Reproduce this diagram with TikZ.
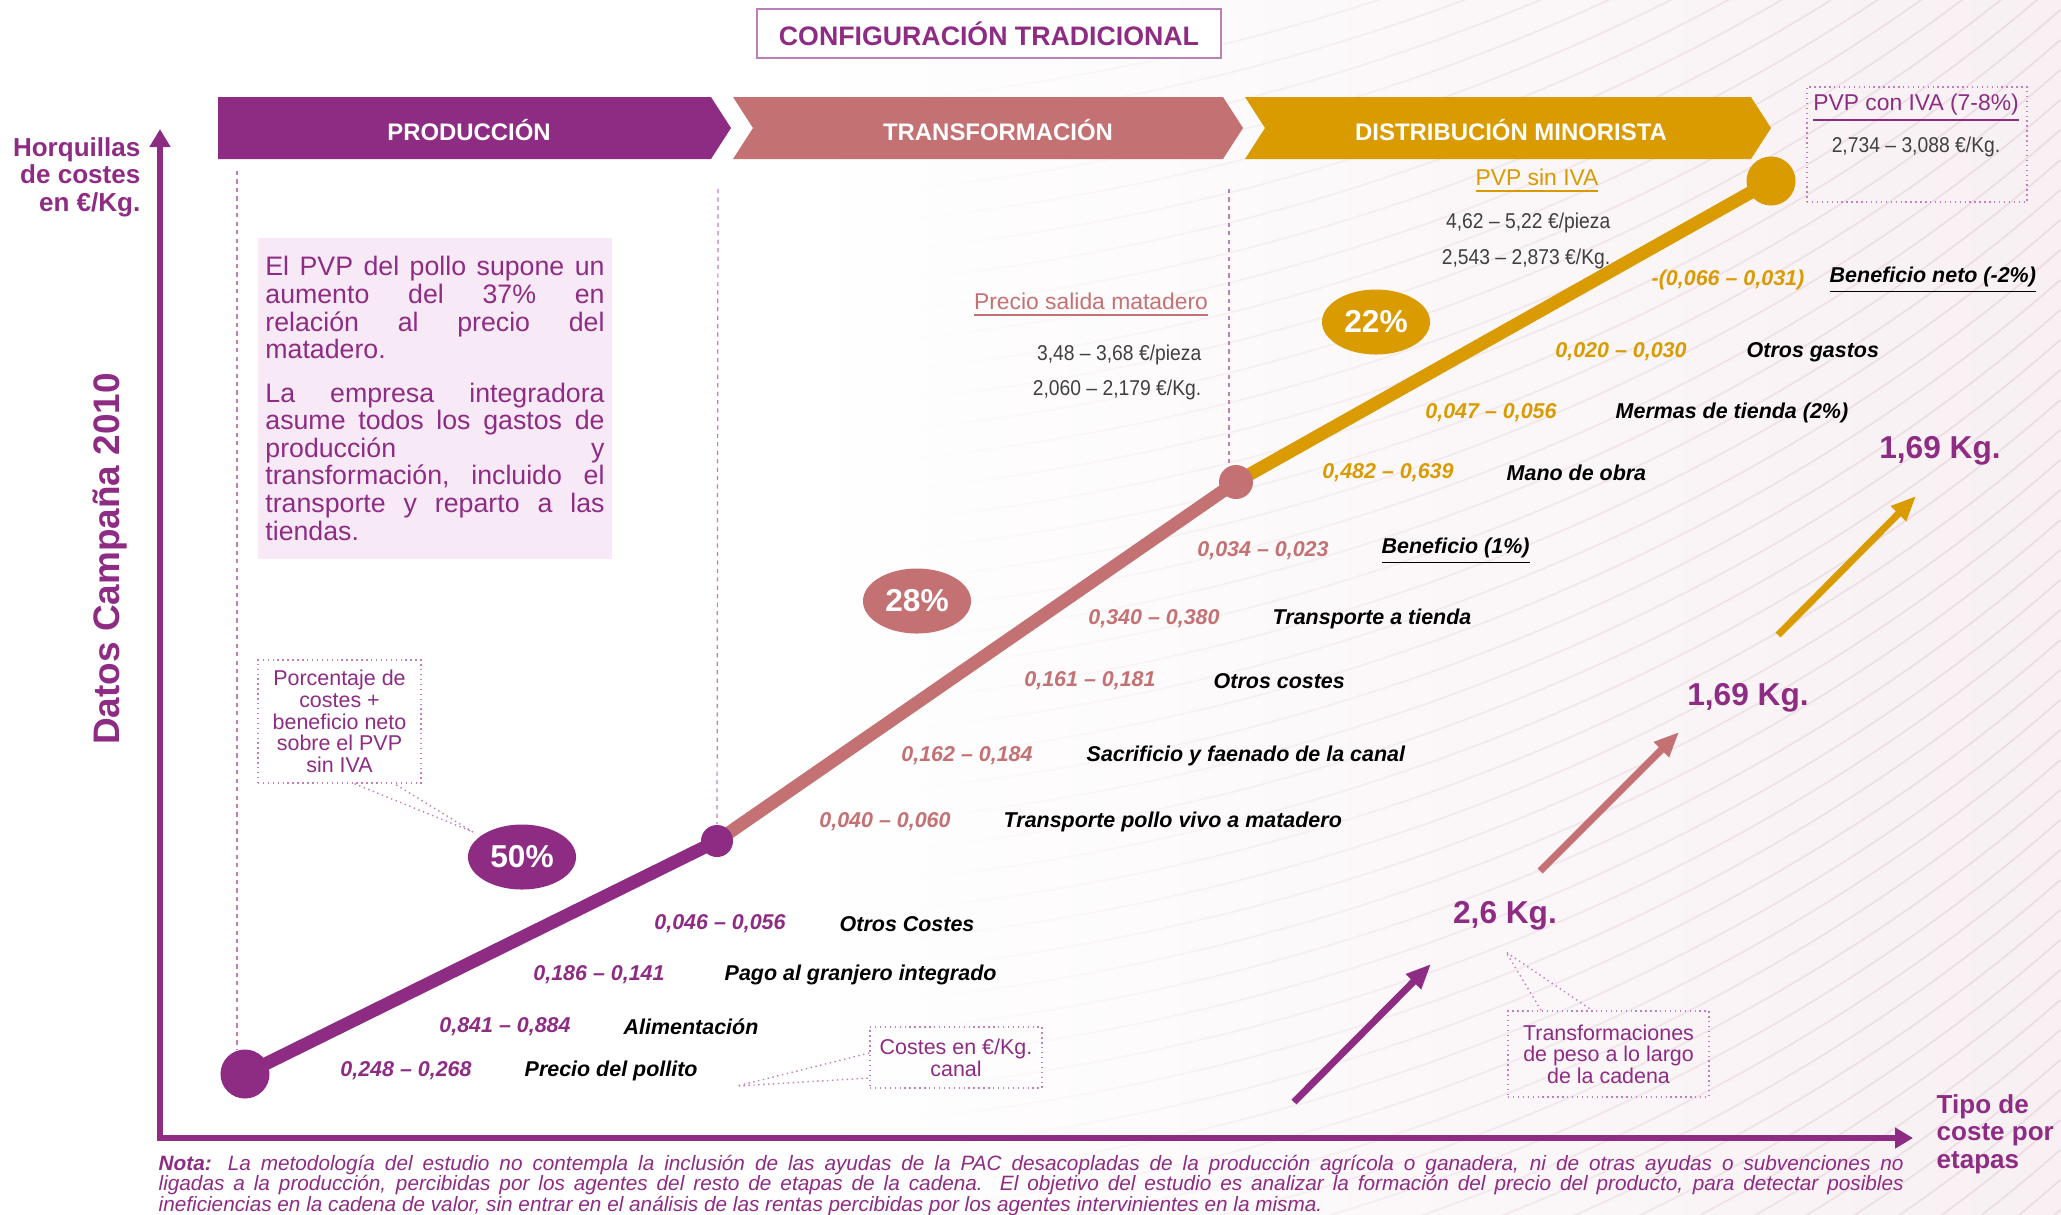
\documentclass[tikz,border=0pt]{standalone}
\usepackage{fontspec}
\setmainfont{Liberation Sans}
\newfontfamily\narrowfont[FakeStretch=0.9]{Liberation Sans}
\usetikzlibrary{arrows.meta,shapes.geometric,positioning,calc,fadings}

\definecolor{prodcol}{HTML}{8E2C84}
\definecolor{transcol}{HTML}{C47173}
\definecolor{distcol}{HTML}{D99B00}
\definecolor{infofill}{HTML}{F8E9F6}
\definecolor{pricegrey}{HTML}{404040}
\definecolor{guidecol}{HTML}{C47DBB}
\definecolor{wavecol}{HTML}{F8F0F3}
\definecolor{wavelinecol}{HTML}{ECDCE3}

\tikzfading[name=wavefade, left color=transparent!100, right color=transparent!0]

\tikzset{
  stagetext/.style={text=white, font=\bfseries\fontsize{6.8}{8}\selectfont},
  costval/.style={font=\bfseries\itshape\fontsize{6.1}{7}\selectfont},
  costname/.style={anchor=west, inner xsep=0pt, font=\bfseries\itshape\fontsize{6.1}{7}\selectfont},
  pricehead/.style={font=\fontsize{6.5}{8}\selectfont},
  priceval/.style={text=pricegrey, inner xsep=0pt, font=\narrowfont\fontsize{6.1}{8}\selectfont},
  pctmark/.style={ellipse, minimum width=1.08cm, minimum height=0.65cm, inner sep=0pt, text=white, font=\bfseries\fontsize{9}{10}\selectfont},
  chaindot/.style={circle, inner sep=0pt},
  notebox/.style={draw=guidecol, densely dotted, align=center, text=prodcol, inner sep=0pt, font=\fontsize{6.1}{6.15}\selectfont},
  noteline/.style={draw=guidecol, densely dotted},
  kgtext/.style={text=prodcol, font=\bfseries\fontsize{9}{10}\selectfont},
  kgarrow/.style={line width=0.07cm, -{Triangle[length=0.25cm,width=0.2cm]}},
  segline/.style={line width=0.13cm},
  guide/.style={guidecol, dash pattern=on 1.2pt off 1.2pt, line width=0.35pt},
  axisline/.style={prodcol, line width=0.055cm, {Triangle[length=0.18cm,width=0.2cm]}-{Triangle[length=0.18cm,width=0.2cm]}},
  axistext/.style={inner sep=0pt, text=prodcol, font=\bfseries\fontsize{7.4}{7.85}\selectfont},
  waveline/.style={wavelinecol, line width=0.5pt, path fading=wavefade},
}

\begin{document}
\begin{tikzpicture}[x=0.01cm, y=-0.01cm]
\useasboundingbox (0,0) rectangle (2061,1214);

% Background
\begin{scope}
\clip (0,0) rectangle (2061,1214);
\shade[left color=white, right color=wavecol] (800,0) rectangle (2061,1214);
\foreach \k in {0,...,55}
  \draw[waveline] (900,100+\k*30) .. controls (1400,50+\k*30) and (1800,-150+\k*30) .. (2061,-380+\k*30);
\end{scope}

% Title
\node[draw=prodcol!60, line width=0.6pt, fill=white, minimum width=4.64cm, minimum height=0.49cm, text=prodcol, font=\bfseries\fontsize{7.6}{9}\selectfont] (title) at (989,33.5) {CONFIGURACIÓN TRADICIONAL};

% Stages
\fill[prodcol] (218,97) -- (711,97) -- (731,128) -- (711,159) -- (218,159) -- cycle;
\fill[transcol] (733,97) -- (1223,97) -- (1243,128) -- (1223,159) -- (733,159) -- (753,128) -- cycle;
\fill[distcol] (1245,97) -- (1751,97) -- (1771,128) -- (1751,159) -- (1245,159) -- (1265,128) -- cycle;
\node[stagetext] (prod) at (469,130) {PRODUCCIÓN};
\node[stagetext] (trans) at (998,130) {TRANSFORMACIÓN};
\node[stagetext] (dist) at (1511,130) {DISTRIBUCIÓN MINORISTA};

% Axes
\coordinate (origin) at (160,1138);
\coordinate (ytop) at (160,129);
\coordinate (xend) at (1913,1138);
\draw[axisline] (ytop) -- (origin) -- (xend);
\node[axistext, anchor=east, align=right] (ylab) at (141,177) {Horquillas\\de costes\\en €/Kg.};
\node[axistext, anchor=west, align=left] (xlab) at (1936,1134) {Tipo de\\coste por\\etapas};
\node[rotate=90, text=prodcol, font=\bfseries\fontsize{10.5}{12}\selectfont] (campaign) at (110,559) {Datos Campaña 2010};

% Price chain
\coordinate (p1) at (245,1074);
\coordinate (p2) at (717,841);
\coordinate (p3) at (1236,482);
\coordinate (p4) at (1771,181);
\coordinate (g1) at (237,171);
\coordinate (g2) at (718,189);
\coordinate (g3) at (1229,189);
\draw[segline, prodcol] (p1) -- (p2);
\draw[segline, transcol] (p2) -- (p3);
\draw[segline, distcol] (p3) -- (p4);
\node[chaindot, fill=prodcol, minimum size=0.49cm] (dot1) at (p1) {};
\node[chaindot, fill=prodcol, minimum size=0.32cm] (dot2) at (p2) {};
\node[chaindot, fill=transcol, minimum size=0.34cm] (dot3) at (p3) {};
\node[chaindot, fill=distcol, minimum size=0.49cm] (dot4) at (p4) {};
\draw[guide] (g1) -- (g1 |- dot1.north);
\draw[guide] (g2) -- (dot2);
\draw[guide] (g3) -- (g3 |- dot3.north);

\node[pctmark, fill=prodcol] (pct50) at (522,857) {50\%};
\node[pctmark, fill=transcol] (pct28) at (917,601) {28\%};
\node[pctmark, fill=distcol] (pct22) at (1376,322) {22\%};

% Info box
\node[fill=infofill, minimum width=3.53cm, minimum height=3.21cm, text width=3.39cm, inner xsep=0.04cm, align=justify, text=prodcol, font=\fontsize{7.6}{7.85}\selectfont] (info) at (435,398.5) {El PVP del pollo supone un\linebreak aumento del 37\% en\linebreak relación al precio del\linebreak matadero.\par\vspace{4.5pt}La empresa integradora\linebreak asume todos los gastos de\linebreak producción y\linebreak \mbox{transformación,} incluido el\linebreak transporte y reparto a las\linebreak tiendas.};

% Costs, production
\node[costval, text=prodcol] (c1) at (406,1071) {0,248 – 0,268};
\node[costname] (n1) at (524,1071) {Precio del pollito};
\node[costval, text=prodcol] (c2) at (505,1027) {0,841 – 0,884};
\node[costname] (n2) at (623,1027) {Alimentación};
\node[costval, text=prodcol] (c3) at (599,975) {0,186 – 0,141};
\node[costname] (n3) at (724,975) {Pago al granjero integrado};
\node[costval, text=prodcol] (c4) at (720,924) {0,046 – 0,056};
\node[costname] (n4) at (839,924) {Otros Costes};

% Costs, transformation
\node[costval, text=transcol] (c5) at (885,822) {0,040 – 0,060};
\node[costname] (n5) at (1003,822) {Transporte pollo vivo a matadero};
\node[costval, text=transcol] (c6) at (967,756) {0,162 – 0,184};
\node[costname] (n6) at (1086,756) {Sacrificio y faenado de la canal};
\node[costval, text=transcol] (c7) at (1090,681) {0,161 – 0,181};
\node[costname] (n7) at (1213,681) {Otros costes};
\node[costval, text=transcol] (c8) at (1154,619) {0,340 – 0,380};
\node[costname] (n8) at (1272,619) {Transporte a tienda};
\node[costval, text=transcol] (c9) at (1263,551) {0,034 – 0,023};
\node[costname] (n9) at (1381,551) {\underline{Beneficio (1\%)}};

% Costs, retail
\node[costval, text=distcol] (c10) at (1388,473) {0,482 – 0,639};
\node[costname] (n10) at (1506,473) {Mano de obra};
\node[costval, text=distcol] (c11) at (1491,413) {0,047 – 0,056};
\node[costname] (n11) at (1615,413) {Mermas de tienda (2\%)};
\node[costval, text=distcol] (c12) at (1621,352) {0,020 – 0,030};
\node[costname] (n12) at (1746,352) {Otros gastos};
\node[costval, text=distcol] (c13) at (1728,280) {-(0,066 – 0,031)};
\node[costname] (n13) at (1829,280) {\underline{Beneficio neto (-2\%)}};

% Prices
\node[pricehead, text=transcol] (slaughter) at (1091,305) {\underline{Precio salida matadero}};
\node[priceval, anchor=east] (slaughterpc) at (1202,355) {3,48 – 3,68 €/pieza};
\node[priceval, anchor=east] (slaughterkg) at (1202,390) {2,060 – 2,179 €/Kg.};
\node[pricehead, text=distcol] (pvpnet) at (1537,181) {\underline{PVP sin IVA}};
\node[priceval, anchor=east] (pvpnetpc) at (1611,223) {4,62 – 5,22 €/pieza};
\node[priceval, anchor=east] (pvpnetkg) at (1611,259) {2,543 – 2,873 €/Kg.};
\node[draw=guidecol, densely dotted, minimum width=2.2cm, minimum height=1.15cm] (ivabox) at (1917,144.5) {};
\node[pricehead, text=prodcol] (pvpgross) at (1916,108) {\underline{PVP con IVA (7-8\%)}};
\node[priceval] (pvpgrosskg) at (1916,147) {2,734 – 3,088 €/Kg.};

% Callouts
\node[notebox, minimum width=1.63cm, minimum height=1.23cm] (pctnote) at (339.5,721.5) {Porcentaje de\\costes +\\beneficio neto\\sobre el PVP\\sin IVA};
\coordinate (pcttip) at (473,832);
\draw[noteline] ($(pctnote.south)+(15,0)$) -- (pcttip) -- ($(pctnote.south)+(55,0)$);

\node[notebox, minimum width=1.72cm, minimum height=0.61cm] (costnote) at (956,1057.5) {Costes en €/Kg.\\canal};
\coordinate (costtip) at (737,1086);
\draw[noteline] ($(costnote.west)+(0,-4.5)$) -- (costtip) -- ($(costnote.west)+(0,20.5)$);

\node[notebox, minimum width=2.01cm, minimum height=0.86cm] (weightnote) at (1608.5,1054) {Transformaciones\\de peso a lo largo\\de la cadena};
\coordinate (weighttip) at (1506,952);
\draw[noteline] ($(weightnote.north)+(-67.5,0)$) -- (weighttip) -- ($(weightnote.north)+(-16.5,0)$);

% Weights
\coordinate (w1a) at (1294,1102);
\coordinate (w1b) at (1431,964);
\coordinate (w2a) at (1540,871);
\coordinate (w2b) at (1679,732);
\coordinate (w3a) at (1778,635);
\coordinate (w3b) at (1916,496);
\draw[kgarrow, prodcol] (w1a) -- (w1b);
\draw[kgarrow, transcol] (w2a) -- (w2b);
\draw[kgarrow, distcol] (w3a) -- (w3b);
\node[kgtext] (kg26) at (1505,916) {2,6 Kg.};
\node[kgtext] (kg169a) at (1748,698) {1,69 Kg.};
\node[kgtext] (kg169b) at (1940,451) {1,69 Kg.};

% Note
\node[anchor=base west, inner sep=0pt, text width=17.44cm, align=justify, text=prodcol, font=\itshape\fontsize{5.9}{5.85}\selectfont] (note) at (158,1170) {\textbf{Nota:} La metodología del estudio no contempla la inclusión de las ayudas de la PAC desacopladas de la producción agrícola o ganadera, ni de otras ayudas o subvenciones no\linebreak ligadas a la producción, percibidas por los agentes del resto de etapas de la cadena. El objetivo del estudio es analizar la formación del precio del producto, para detectar posibles\linebreak ineficiencias en la cadena de valor, sin entrar en el análisis de las rentas percibidas por los agentes intervinientes en la misma.};
\end{tikzpicture}
\end{document}
